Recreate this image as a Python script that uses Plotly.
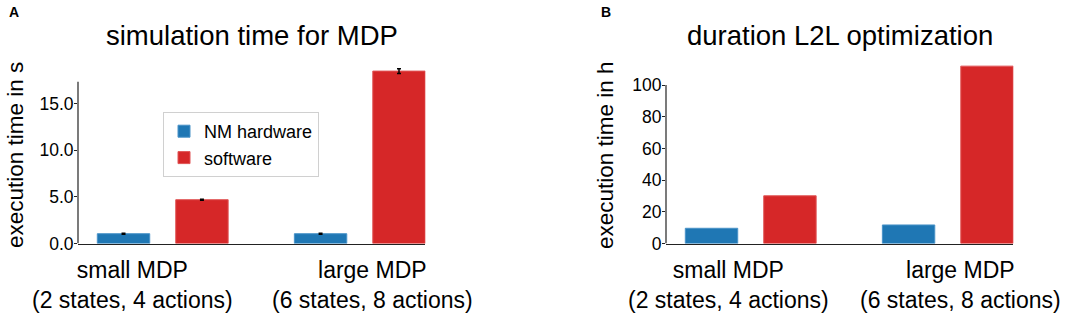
import plotly.graph_objects as go

# ---- data ----
categories = ["small MDP", "large MDP"]
tick_labels = ["small MDP<br>(2 states, 4 actions)", "large MDP<br>(6 states, 8 actions)"]

sim_hardware = [1.05, 1.05]
sim_hardware_err = [0.05, 0.05]
sim_software = [4.7, 18.5]
sim_software_err = [0.05, 0.25]

l2l_hardware = [9.6, 11.7]
l2l_software = [30.1, 111.9]

BLUE = "#1f77b4"
RED = "#d62728"
FONT = "Liberation Sans, Arial, sans-serif"
W, H = 1084, 314

fig = go.Figure()

bw = 0.266
# Panel A
fig.add_trace(go.Bar(x=categories, y=sim_hardware, name="NM hardware", marker=dict(color=BLUE, line=dict(color="#4a93c8", width=1)),
                     width=bw, offset=-0.332,
                     error_y=dict(type="data", array=sim_hardware_err, color="black", thickness=1.5, width=2),
                     xaxis="x", yaxis="y"))
fig.add_trace(go.Bar(x=categories, y=sim_software, name="software", marker=dict(color=RED, line=dict(color="#e05556", width=1)),
                     width=bw, offset=0.066,
                     error_y=dict(type="data", array=sim_software_err, color="black", thickness=1.5, width=2),
                     xaxis="x", yaxis="y"))
# Panel B
fig.add_trace(go.Bar(x=categories, y=l2l_hardware, name="NM hardware", marker=dict(color=BLUE, line=dict(color="#4a93c8", width=1)),
                     width=bw, offset=-0.332, xaxis="x2", yaxis="y2", showlegend=False))
fig.add_trace(go.Bar(x=categories, y=l2l_software, name="software", marker=dict(color=RED, line=dict(color="#e05556", width=1)),
                     width=bw, offset=0.066, xaxis="x2", yaxis="y2", showlegend=False))

ybot = 1 - 243.5 / H
ytop = 1 - 62 / H
axA = [78 / W, 425.4 / W]
axB = [666 / W, 1013.4 / W]
xr = [-0.43, 1.333]

common_x = dict(range=xr, showline=True, linecolor="#222", linewidth=1.2, showticklabels=False,
                ticks="", showgrid=False, zeroline=False, type="category", automargin=False)
common_y = dict(showline=False, ticks="outside", ticklen=3, tickcolor="#222", tickwidth=1,
                ticklabelstandoff=-3, automargin=False,
                showgrid=False, zeroline=False, tickfont=dict(size=17.5, color="black", family=FONT))

fig.update_layout(
    template="none",
    width=W, height=H, autosize=False,
    margin=dict(l=0, r=0, t=0, b=0, pad=0, autoexpand=False),
    paper_bgcolor="white", plot_bgcolor="white",
    font=dict(family=FONT, color="black"),
    xaxis=dict(domain=axA, anchor="y", **common_x),
    yaxis=dict(domain=[ybot, ytop], anchor="x", range=[0, 181.5 / 9.32],
               tickvals=[0, 5, 10, 15], ticktext=["0.0", "5.0", "10.0", "15.0"], **common_y),
    xaxis2=dict(domain=axB, anchor="y2", **common_x),
    yaxis2=dict(domain=[ybot, ytop], anchor="x2", range=[0, 181.5 / 1.585],
                tickvals=[0, 20, 40, 60, 80, 100], **common_y),
    legend=dict(x=163 / W, y=1 - 112 / H, xanchor="left", yanchor="top",
                bgcolor="white", bordercolor="#d0d0d0", borderwidth=1, traceorder="normal",
                font=dict(size=18, family=FONT, color="black")),
    showlegend=True,
    barmode="overlay",
)

# y spines (trimmed like the reference)
fig.add_shape(type="line", xref="x domain", yref="y", x0=0, x1=0, y0=0, y1=17.36,
              line=dict(color="#222", width=1.2))
fig.add_shape(type="line", xref="x2 domain", yref="y2", x0=0, x1=0, y0=0, y1=100,
              line=dict(color="#222", width=1.2))

ann = []
# panel titles
ann.append(dict(text="simulation time for MDP", x=(axA[0] + axA[1]) / 2, y=1 - 36 / H, xref="paper", yref="paper",
                showarrow=False, font=dict(size=27.5, family=FONT), xanchor="center", yanchor="middle"))
ann.append(dict(text="duration L2L optimization", x=(axB[0] + axB[1]) / 2, y=1 - 36 / H, xref="paper", yref="paper",
                showarrow=False, font=dict(size=27.5, family=FONT), xanchor="center", yanchor="middle"))
# panel letters
ann.append(dict(text="<b>A</b>", x=14 / W, y=1 - 12 / H, xref="paper", yref="paper", showarrow=False,
                font=dict(size=14, family=FONT), xanchor="center", yanchor="middle"))
ann.append(dict(text="<b>B</b>", x=606 / W, y=1 - 12 / H, xref="paper", yref="paper", showarrow=False,
                font=dict(size=14, family=FONT), xanchor="center", yanchor="middle"))
# y titles
ann.append(dict(text="execution time in s", x=15 / W, y=1 - 155 / H, xref="paper", yref="paper", showarrow=False,
                textangle=-90, font=dict(size=22.5, family=FONT), xanchor="center", yanchor="middle"))
ann.append(dict(text="execution time in h", x=605 / W, y=1 - 155 / H, xref="paper", yref="paper", showarrow=False,
                textangle=-90, font=dict(size=22.5, family=FONT), xanchor="center", yanchor="middle"))
# x tick labels
xlabA = [-0.151, 0.062]
xlabB = [-0.114, 0.062]
for i, t in enumerate(tick_labels):
    ann.append(dict(text=t, x=i + xlabA[i], y=1 - 285 / H, xref="x", yref="paper", showarrow=False,
                    font=dict(size=23, family=FONT), xanchor="center", yanchor="middle"))
    ann.append(dict(text=t, x=i + xlabB[i], y=1 - 285 / H, xref="x2", yref="paper", showarrow=False,
                    font=dict(size=23, family=FONT), xanchor="center", yanchor="middle"))
fig.update_layout(annotations=ann)

fig.write_html("out.html", config={"displayModeBar": False, "responsive": False},
               post_script="document.body.style.margin='0';document.body.style.padding='0';document.body.style.overflow='hidden';")
